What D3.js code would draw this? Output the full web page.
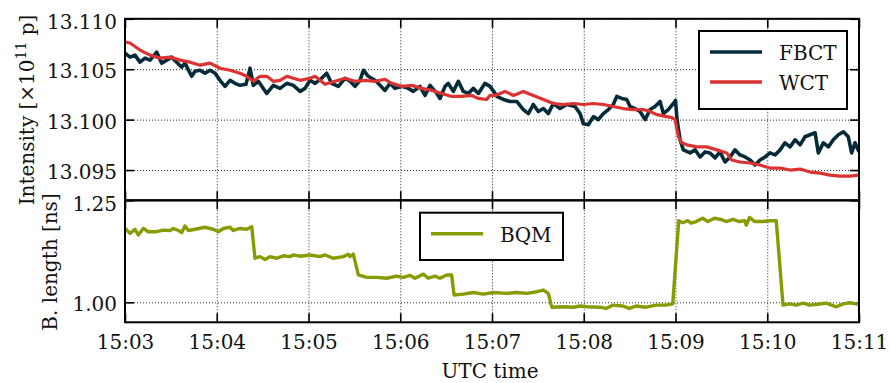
<!DOCTYPE html>
<html>
<head>
<meta charset="utf-8">
<script src="https://cdn.jsdelivr.net/npm/d3@7"></script>
<style>
  html, body { margin: 0; padding: 0; background: #fff; }
  svg { display: block; font-family: "DejaVu Serif", serif; }
  .grid line { stroke: #222; stroke-width: 1; stroke-dasharray: 1,2; }
  .grid path { display: none; }
  .tk line { stroke: #000; stroke-width: 1.6; }
  .tk path { display: none; }
  .lbl path, .lbl line { display: none; }
  .lbl text { font-family: "DejaVu Serif", serif; font-size: 20px; fill: #111; }
</style>
</head>
<body>
<svg id="chart" width="890" height="383"></svg>
<script>
// Seconds after 15:03:00 UTC and beam intensity (×10^11 p)
const fbctTime = [0,3.3,6.5,9.8,13.1,16.4,20.7,24.0,27.3,30.5,33.8,37.1,39.2,43.6,45.8,49.1,52.3,55.6,58.9,62.1,65.4,68.7,71.9,75.2,79.1,81.8,83.9,87.2,92.7,97.0,101.4,105.8,110.1,114.5,117.7,121.0,124.3,128.6,131.9,135.2,139.5,143.9,147.2,150.4,153.7,155.9,159.1,163.5,166.8,170.0,173.3,176.6,181.0,185.3,188.5,192.9,196.2,199.5,203.9,206.0,209.3,211.4,214.7,218.0,221.2,224.5,227.8,231.1,235.4,238.7,242.0,243.1,247.4,251.8,256.2,260.5,263.8,267.0,270.3,273.6,276.8,280.1,284.5,288.9,294.3,297.6,299.7,303.0,306.3,309.5,312.8,316.1,319.3,321.6,324.8,328.1,330.3,333.5,336.8,340.1,343.4,346.6,349.9,352.1,355.3,358.6,360.0,361.0,363.0,365.1,369.5,372.8,376.1,379.3,382.6,385.9,389.1,392.4,395.7,398.9,402.2,405.5,408.8,412.0,415.3,418.6,421.8,425.1,428.4,431.6,434.9,438.2,441.5,444.7,448.0,451.3,453.4,456.7,460.0,463.2,466.5,469.8,473.0,475.2,477.4,480];
const fbctValue = [13.1066,13.1062,13.1064,13.1057,13.1061,13.1059,13.1067,13.1056,13.1059,13.1062,13.1057,13.1052,13.1056,13.1043,13.1048,13.1049,13.1046,13.1049,13.1046,13.1039,13.1033,13.1039,13.1036,13.1034,13.1035,13.1051,13.1034,13.1038,13.1026,13.1034,13.1031,13.1036,13.1034,13.1028,13.1031,13.1039,13.1036,13.1041,13.1046,13.1036,13.1033,13.1041,13.1038,13.1033,13.1039,13.1049,13.1043,13.1039,13.1034,13.1029,13.1036,13.1031,13.1033,13.1031,13.1028,13.1033,13.1024,13.1034,13.1026,13.1021,13.1033,13.1036,13.1028,13.1038,13.1028,13.1026,13.1031,13.1026,13.1036,13.1033,13.1026,13.1023,13.1020,13.1018,13.1018,13.1010,13.1006,13.1015,13.1008,13.1011,13.1006,13.1016,13.1011,13.1015,13.1013,13.1006,13.0996,13.0995,13.1003,13.1000,13.1006,13.1010,13.1015,13.1023,13.1021,13.1020,13.1013,13.1011,13.1008,13.1000,13.1010,13.1013,13.1018,13.1006,13.1010,13.1016,13.1019,13.1000,13.0980,13.0970,13.0967,13.0970,13.0963,13.0968,13.0967,13.0962,13.0968,13.0958,13.0963,13.0970,13.0965,13.0963,13.0960,13.0955,13.0960,13.0963,13.0967,13.0965,13.0970,13.0977,13.0973,13.0980,13.0975,13.0983,13.0985,13.0987,13.0967,13.0977,13.0973,13.0980,13.0985,13.0988,13.0983,13.0967,13.0977,13.0968];

const wctTime = [0,3.3,9.8,16.4,22.9,29.4,36.0,42.5,49.1,55.6,62.1,68.7,75.2,79.6,83.9,88.3,92.7,97.0,101.4,105.8,110.1,114.5,121.0,124.3,130.8,137.3,143.9,150.4,157.0,163.5,170.0,174.4,181.0,187.5,194.0,200.6,207.1,213.7,220.2,226.7,231.1,236.5,238.7,242.0,248.5,254.0,260.5,267.0,273.6,280.1,286.7,293.2,299.7,306.3,312.8,319.3,325.9,332.4,339.0,343.4,347.8,354.3,357.7,359.7,361.9,364.1,367.4,373.9,380.4,387.0,393.5,396.8,402.2,408.8,415.3,421.8,428.4,434.9,441.5,448.0,454.5,461.1,467.6,474.2,480];
const wctValue = [13.1077,13.1076,13.1069,13.1064,13.1061,13.1062,13.1059,13.1057,13.1054,13.1056,13.1051,13.1049,13.1046,13.1043,13.1038,13.1043,13.1043,13.1038,13.1039,13.1043,13.1041,13.1039,13.1041,13.1043,13.1035,13.1038,13.1041,13.1038,13.1039,13.1038,13.1040,13.1036,13.1033,13.1034,13.1031,13.1029,13.1026,13.1023,13.1023,13.1024,13.1021,13.1020,13.1024,13.1024,13.1028,13.1024,13.1028,13.1024,13.1020,13.1016,13.1015,13.1016,13.1015,13.1016,13.1015,13.1013,13.1011,13.1010,13.1010,13.1008,13.1005,13.1003,13.1002,13.1000,13.0983,13.0977,13.0975,13.0973,13.0973,13.0970,13.0967,13.0960,13.0958,13.0957,13.0955,13.0952,13.0952,13.0950,13.0951,13.0948,13.0947,13.0945,13.0944,13.0944,13.0945];

// Bunch length from the BQM (ns)
const bqmTime = [0,3.3,6.5,8.7,12.0,15.2,20.7,25.0,29.4,31.6,34.9,37.1,39.2,41.4,45.8,52.3,57.7,61.0,64.3,68.7,70.8,75.2,79.6,82.9,85.0,88.3,91.6,94.8,99.2,103.5,107.9,110.1,114.5,121.0,127.5,130.8,136.2,142.8,146.0,147.1,149.3,152.6,158.0,164.6,171.1,177.6,182.0,186.4,189.6,195.1,198.3,202.7,206.0,210.4,213.6,215.2,221.2,227.8,234.3,240.9,249.6,256.2,262.7,269.3,273.6,276.8,279.1,286.7,293.2,297.6,302.0,310.7,314.6,318.9,325.5,329.8,334.2,340.7,347.3,353.8,358.2,362.1,364.7,368.0,370.2,373.5,377.8,381.1,385.5,389.9,393.1,397.5,401.9,405.2,406.3,408.4,411.7,417.2,421.6,425.9,430.3,434.6,439.0,443.4,447.7,454.3,458.6,465.2,469.6,474.0,478.3,480];
const bqmValue = [1.181,1.169,1.179,1.165,1.181,1.173,1.173,1.177,1.176,1.181,1.176,1.171,1.187,1.176,1.179,1.184,1.179,1.173,1.181,1.184,1.176,1.181,1.179,1.185,1.108,1.112,1.105,1.112,1.108,1.114,1.112,1.116,1.113,1.116,1.112,1.116,1.108,1.112,1.118,1.112,1.118,1.067,1.061,1.061,1.059,1.064,1.061,1.066,1.059,1.069,1.059,1.064,1.059,1.067,1.067,1.018,1.020,1.024,1.020,1.024,1.022,1.024,1.022,1.026,1.030,1.022,0.988,0.989,0.988,0.991,0.989,0.988,0.985,0.993,0.991,0.985,0.991,0.988,0.993,0.993,0.996,1.200,1.195,1.200,1.194,1.198,1.206,1.198,1.206,1.203,1.198,1.203,1.198,1.200,1.189,1.208,1.198,1.198,1.200,1.200,0.993,0.996,0.993,0.998,0.993,0.996,0.998,0.989,0.996,0.999,0.996,0.996];

const timeTicks = ["15:03","15:04","15:05","15:06","15:07","15:08","15:09","15:10","15:11"];
const intensityTicks = [13.095, 13.100, 13.105, 13.110];
const lengthTicks = [1.00, 1.25];

const colors = { fbct: "#062b38", wct: "#dc3232", bqm: "#889b00" };

const svg = d3.select("#chart");
const left = 125, right = 859;
const topPanel = { y0: 18.8, y1: 200.3 };
const botPanel = { y0: 200.3, y1: 322.3 };

const t0 = Date.UTC(2016, 0, 1, 15, 3, 0);
const toDate = s => new Date(t0 + s * 1000);
const parseHM = d3.utcParse("%H:%M");
const tickDates = timeTicks.map(s => {
  const d = parseHM(s);
  return new Date(Date.UTC(2016, 0, 1, d.getUTCHours(), d.getUTCMinutes(), 0));
});

const x = d3.scaleUtc().domain([toDate(0), toDate(480)]).range([left, right]);
const yTop = d3.scaleLinear().domain([13.092, 13.110]).range([topPanel.y1, topPanel.y0]);
const yBot = d3.scaleLinear().domain([0.951, 1.25]).range([botPanel.y1, botPanel.y0]);
const fmtTime = d3.utcFormat("%H:%M");

function panel(p, y, yTicks, yFmt, id) {
  const h = p.y1 - p.y0;
  const g = svg.append("g");
  // dotted grid
  g.append("g").attr("class", "grid").attr("transform", `translate(0,${p.y1})`)
    .call(d3.axisBottom(x).tickValues(tickDates).tickSize(-h).tickFormat(""));
  g.append("g").attr("class", "grid").attr("transform", `translate(${left},0)`)
    .call(d3.axisLeft(y).tickValues(yTicks).tickSize(-(right - left)).tickFormat(""));
  svg.append("clipPath").attr("id", id).append("rect")
    .attr("x", left).attr("y", p.y0).attr("width", right - left).attr("height", h);
  // inward ticks on all four sides
  g.append("g").attr("class", "tk").attr("transform", `translate(0,${p.y1})`)
    .call(d3.axisBottom(x).tickValues(tickDates).tickSize(-9).tickFormat(""));
  g.append("g").attr("class", "tk").attr("transform", `translate(0,${p.y0})`)
    .call(d3.axisTop(x).tickValues(tickDates).tickSize(-9).tickFormat(""));
  g.append("g").attr("class", "tk").attr("transform", `translate(${left},0)`)
    .call(d3.axisLeft(y).tickValues(yTicks).tickSize(-9).tickFormat(""));
  g.append("g").attr("class", "tk").attr("transform", `translate(${right},0)`)
    .call(d3.axisRight(y).tickValues(yTicks).tickSize(-9).tickFormat(""));
  // y labels
  g.append("g").attr("class", "lbl").attr("transform", `translate(${left},0)`)
    .call(d3.axisLeft(y).tickValues(yTicks).tickSize(0).tickPadding(8).tickFormat(yFmt))
    .selectAll("text").attr("dy", (d, i) => (i === yTicks.length - 1 ? "0.5em" : "0.42em"));
  return g;
}

const gTop = panel(topPanel, yTop, intensityTicks, d3.format(".3f"), "clipTop");
const gBot = panel(botPanel, yBot, lengthTicks, d3.format(".2f"), "clipBot");

const lineTop = d3.line().x(d => x(toDate(d[0]))).y(d => yTop(d[1]));
const lineBot = d3.line().x(d => x(toDate(d[0]))).y(d => yBot(d[1]));

const plotLines = svg.append("g");
plotLines.append("path").datum(d3.zip(fbctTime, fbctValue))
  .attr("clip-path", "url(#clipTop)")
  .attr("d", lineTop).attr("fill", "none").attr("stroke", colors.fbct)
  .attr("stroke-width", 3.6).attr("stroke-linejoin", "round");
plotLines.append("path").datum(d3.zip(wctTime, wctValue))
  .attr("clip-path", "url(#clipTop)")
  .attr("d", lineTop).attr("fill", "none").attr("stroke", colors.wct)
  .attr("stroke-width", 3.2).attr("stroke-linejoin", "round");
plotLines.append("path").datum(d3.zip(bqmTime, bqmValue))
  .attr("clip-path", "url(#clipBot)")
  .attr("d", lineBot).attr("fill", "none").attr("stroke", colors.bqm)
  .attr("stroke-width", 3.4).attr("stroke-linejoin", "round");

// panel frames
[topPanel, botPanel].forEach(p => {
  svg.append("rect").attr("x", left).attr("y", p.y0)
    .attr("width", right - left).attr("height", p.y1 - p.y0)
    .attr("fill", "none").attr("stroke", "#000").attr("stroke-width", 2);
});

// time labels
svg.append("g").attr("class", "lbl").attr("transform", `translate(0,${botPanel.y1})`)
  .call(d3.axisBottom(x).tickValues(tickDates).tickSize(0).tickPadding(12).tickFormat(fmtTime))
  .selectAll("text").attr("dy", "0.72em");

// axis titles
const title = (sel) => sel.attr("font-size", 20).attr("fill", "#111").attr("text-anchor", "middle");
svg.append("text").call(title).attr("x", 490).attr("y", 378).text("UTC time");
const it = svg.append("text").call(title)
  .attr("transform", "translate(34,110) rotate(-90)");
it.append("tspan").text("Intensity [×10");
it.append("tspan").attr("font-size", 14).attr("dy", -8).text("11");
it.append("tspan").attr("dy", 8).text(" p]");
svg.append("text").call(title)
  .attr("transform", "translate(57,262) rotate(-90)").text("B. length [ns]");

// legends
function legend(x0, y0, w, h, items) {
  const g = svg.append("g");
  g.append("rect").attr("x", x0).attr("y", y0).attr("width", w).attr("height", h)
    .attr("fill", "#fff").attr("stroke", "#000").attr("stroke-width", 2);
  items.forEach((it, i) => {
    const cy = y0 + 21 + i * 30;
    g.append("line").attr("x1", x0 + 11).attr("x2", x0 + 63)
      .attr("y1", cy).attr("y2", cy)
      .attr("stroke", it.color).attr("stroke-width", 3.4);
    g.append("text").attr("x", x0 + 80).attr("y", cy + 8)
      .attr("font-size", 20).attr("fill", "#111").text(it.name);
  });
}
legend(699, 31, 148, 78, [{ name: "FBCT", color: colors.fbct }, { name: "WCT", color: colors.wct }]);
legend(420, 212.7, 143, 47.3, [{ name: "BQM", color: colors.bqm }]);
</script>
</body>
</html>
